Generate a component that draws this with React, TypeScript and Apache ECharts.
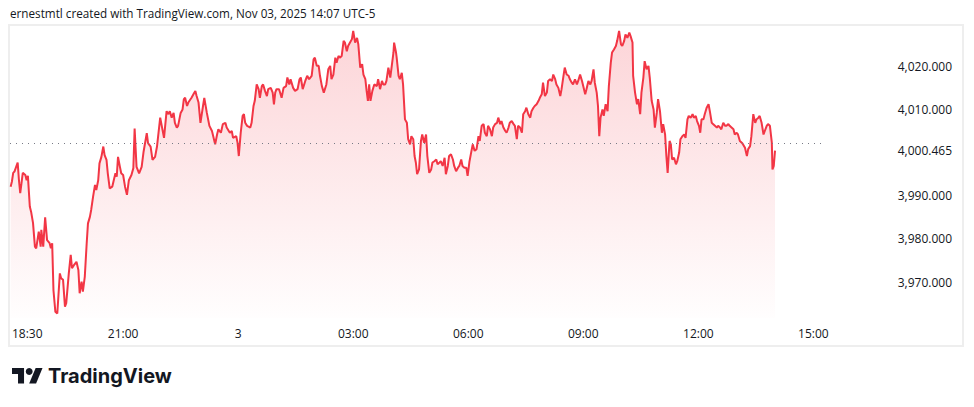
import React, { useEffect, useRef } from "react";
import * as echarts from "echarts";

const HEADER_TEXT = "ernestmtl created with TradingView.com, Nov 03, 2025 14:07 UTC-5";
const BRAND_TEXT = "TradingView";

// [minutes since 18:00 on Nov 2, price]
const evening1800: [number, number][] = [
  [4,3992.1],[6,3993.3],[8,3995.3],[10,3995.6],[15,3997.7],[17,3993.6],[19,3990.6],[21,3992.9],[23,3995.3],[27,3994.8],
  [29,3993.6],[31,3994.6],[34,3987.5],[36,3986.3],[39,3983.7],[42,3978.2],[44,3977.8],[48,3981.7],[51,3978.2],[52,3982.1],
  [55,3978.2],[58,3985.0],[61,3979.7],[65,3979.0],[67,3977.8],[69,3979.0],[71,3968.1],[74,3963.1],[77,3962.7],[81,3972.0],
  [83,3970.9],[86,3970.5],[89,3964.3],[91,3965.1],[95,3972.0],[98,3976.3],[100,3973.2],[103,3973.9],[107,3974.7],[110,3972.8],
  [112,3967.4],[115,3970.1],[117,3967.8],[120,3971.2],[123,3979.0],[125,3983.6],[128,3985.1],[130,3986.7],[133,3989.8],[136,3992.5],
  [138,3991.3],[141,3993.6],[143,3997.5],[146,3999.0],[149,4001.4],[151,3999.4],[154,3998.3],[156,3995.2],[159,3991.7],[163,3992.1],
  [166,3994.0],[168,3995.2],[170,3994.4],[172,3999.0],[175,3996.7],[177,3995.2],
];
const evening2100: [number, number][] = [
  [180,3994.8],[183,3992.1],[186,3990.2],[189,3993.6],[193,3994.8],[196,3996.4],[198,4005.6],[201,3996.7],[205,3995.2],[209,3996.7],
  [212,4000.2],[217,4004.5],[219,4002.2],[223,4001.4],[226,3998.3],[230,3999.0],[233,4001.4],[238,4008.1],[244,4003.4],[248,4009.6],
  [251,4008.9],[253,4009.6],[256,4008.1],[259,4009.2],[261,4006.9],[264,4005.8],[266,4006.2],[270,4009.2],[273,4010.0],[275,4012.4],
  [277,4012.7],[280,4010.8],[282,4011.6],[287,4012.7],[290,4013.5],[293,4014.3],[295,4013.1],[298,4011.6],[301,4006.9],[305,4010.8],
  [307,4012.7],[311,4009.2],[315,4006.2],[319,4005.0],[321,4003.8],[324,4001.9],[327,4004.2],[329,4005.4],[333,4004.6],[336,4006.6],
  [340,4006.9],[342,4005.8],[347,4004.6],[350,4005.0],[352,4003.4],[357,4003.8],[359,4002.3],
];
const night0000: [number, number][] = [
  [361,3999.2],[364,4004.6],[367,4008.5],[369,4008.9],[371,4006.9],[374,4006.2],[379,4005.8],[381,4006.9],[384,4010.8],[386,4012.0],
  [389,4015.8],[392,4014.7],[394,4012.7],[397,4015.4],[399,4015.8],[402,4014.3],[405,4013.1],[407,4014.7],[411,4015.0],[414,4013.9],
  [416,4011.2],[418,4013.9],[420,4014.7],[424,4014.7],[428,4012.7],[431,4015.0],[435,4015.4],[437,4017.4],[440,4015.8],[442,4017.0],
  [446,4015.0],[449,4014.3],[453,4014.7],[456,4017.0],[458,4017.4],[461,4014.7],[465,4016.6],[468,4017.8],[471,4017.0],[475,4017.8],
  [478,4021.6],[480,4022.0],[483,4020.1],[486,4020.1],[488,4017.8],[491,4015.4],[494,4013.9],[498,4015.8],[501,4019.3],[504,4020.1],
  [506,4017.0],[509,4018.1],[512,4022.0],[514,4020.8],[517,4022.4],[519,4022.0],[522,4022.4],[525,4025.9],[527,4025.5],[530,4023.5],
  [532,4024.7],[535,4025.5],[538,4026.3],
];
const night0300: [number, number][] = [
  [540,4028.2],[543,4025.5],[546,4026.6],[548,4025.1],[551,4019.7],[554,4020.5],[556,4018.1],[559,4017.0],[561,4014.3],[563,4012.0],
  [565,4015.8],[567,4012.0],[570,4014.3],[573,4015.8],[577,4015.4],[579,4017.0],[582,4014.7],[585,4016.6],[587,4015.8],[590,4015.8],
  [592,4016.6],[595,4019.7],[598,4017.4],[600,4019.7],[603,4023.2],[604,4025.5],[607,4023.2],[608,4022.0],[611,4017.8],[613,4017.0],
  [616,4018.5],[618,4015.8],[621,4007.7],[624,4006.9],[626,4003.1],[629,4001.9],[631,4003.8],[634,4003.1],[636,3999.2],[638,3997.7],
  [640,3995.0],[643,3996.1],[646,4002.7],[648,4004.2],[651,4002.3],[654,4004.2],[656,3999.2],[659,3995.3],[662,3996.1],[664,3997.7],
  [667,3998.0],[670,3998.4],[672,3997.3],[675,3997.7],[677,3998.0],[680,3996.9],[683,3998.8],[685,3995.0],[688,3996.9],[690,3999.2],
  [693,3999.6],[696,3998.4],[698,3996.9],[701,3995.7],[704,3996.5],[706,3996.9],[709,3998.4],[711,3996.9],[714,3996.5],[717,3996.5],
  [719,3994.6],
];
const morning0600: [number, number][] = [
  [722,3998.0],[724,3999.6],[727,4001.9],[730,4000.4],[733,4000.8],[736,4003.8],[738,4002.7],[741,4006.2],[744,4006.6],[746,4004.6],
  [749,4003.8],[751,4006.2],[754,4005.4],[757,4003.8],[759,4005.8],[762,4006.6],[765,4006.9],[767,4008.1],[770,4006.6],[772,4007.3],
  [775,4005.8],[778,4005.0],[780,4004.6],[783,4005.8],[785,4006.9],[788,4007.3],[791,4006.6],[793,4006.2],[796,4003.1],[798,4006.2],
  [801,4005.8],[804,4004.6],[806,4008.9],[809,4009.6],[811,4010.4],[814,4008.9],[817,4008.1],[819,4009.6],[822,4010.4],[824,4010.8],
  [827,4011.2],[830,4012.0],[832,4012.7],[835,4013.5],[837,4016.2],[840,4013.1],[843,4013.9],[845,4016.6],[848,4017.0],[851,4016.6],
  [853,4018.1],[856,4017.0],[858,4015.8],[861,4015.0],[864,4013.1],[866,4014.7],[869,4017.8],[871,4019.7],[874,4018.1],[877,4017.8],
  [879,4017.0],[882,4016.2],[884,4015.8],[887,4017.0],[890,4015.8],[892,4016.6],[895,4018.1],[898,4016.6],
];
const morning0900: [number, number][] = [
  [900,4015.4],[903,4013.5],[905,4014.7],[908,4016.6],[911,4015.8],[913,4016.6],[916,4019.3],[918,4016.2],[921,4013.9],[923,4010.8],
  [925,4003.8],[927,4008.1],[930,4010.0],[932,4008.5],[935,4011.2],[938,4009.6],[940,4015.4],[943,4020.8],[945,4023.2],[948,4023.9],
  [951,4024.7],[953,4025.9],[956,4028.2],[959,4025.1],[961,4024.7],[964,4025.9],[966,4027.4],[969,4026.6],[972,4027.8],[974,4027.0],
  [977,4025.5],[978,4017.8],[981,4013.9],[984,4011.2],[986,4012.4],[989,4008.9],[991,4013.9],[994,4017.4],[996,4021.2],[999,4019.3],
  [1002,4020.1],[1004,4017.4],[1007,4012.0],[1010,4010.0],[1012,4005.8],[1015,4009.2],[1017,4012.4],[1020,4009.6],[1023,4004.6],[1025,4006.6],
  [1028,4004.2],[1030,3999.2],[1032,3995.3],[1035,4002.7],[1037,4001.9],[1039,3998.4],[1042,3998.8],[1045,3997.3],[1047,3998.0],[1050,4000.0],
  [1052,4003.1],[1055,4003.8],[1058,4004.2],[1060,4003.4],[1063,4007.7],[1065,4008.5],[1068,4008.1],[1071,4008.9],[1073,4008.1],[1076,4008.5],
  [1078,4007.3],
];
const afternoon1200: [number, number][] = [
  [1081,4006.2],[1083,4004.6],[1085,4007.7],[1088,4007.7],[1090,4008.9],[1093,4010.4],[1096,4011.2],[1098,4009.6],[1101,4006.9],[1103,4006.6],
  [1106,4006.2],[1109,4005.8],[1111,4006.2],[1114,4005.8],[1116,4005.4],[1119,4006.9],[1122,4006.2],[1124,4006.2],[1127,4006.6],[1129,4006.2],
  [1132,4005.8],[1135,4005.4],[1137,4004.2],[1140,4004.6],[1142,4004.2],[1145,4002.7],[1148,4002.3],[1150,4001.9],[1153,4001.1],[1156,3999.2],
  [1158,4000.8],[1161,4001.5],[1163,4003.8],[1166,4008.9],[1169,4006.9],[1171,4007.7],[1174,4008.1],[1176,4008.5],[1179,4006.9],[1182,4004.2],
  [1184,4005.0],[1187,4006.2],[1189,4006.6],[1192,4006.2],[1195,4002.3],[1196,3996.1],[1198,3996.9],[1200,4000.465],
];

const timeTickMinutes = [30, 180, 360, 540, 720, 900, 1080, 1260];
const timeTickLabels = ["18:30", "21:00", "3", "03:00", "06:00", "09:00", "12:00", "15:00"];
const priceTicks = [3970, 3980, 3990, 4010, 4020];
const previousClose = 4002.2;

const LINE_COLOR = "#f23645";
const TEXT_COLOR = "#131722";
const FONT = "'Open Sans', 'Noto Sans', sans-serif";

export default function App() {
  const ref = useRef<HTMLDivElement>(null);

  useEffect(() => {
    if (!ref.current) return;
    const chart = echarts.init(ref.current, undefined, { renderer: "svg" });
    const seriesData = [
      ...evening1800, ...evening2100, ...night0000, ...night0300,
      ...morning0600, ...morning0900, ...afternoon1200,
    ];
    const lastPrice = seriesData[seriesData.length - 1][1];
    const fmtPrice = (v: number) =>
      v.toLocaleString("en-US", { minimumFractionDigits: 3, maximumFractionDigits: 3 });

    chart.setOption({
      animation: false,
      backgroundColor: "#ffffff",
      textStyle: { fontFamily: FONT },
      grid: { left: 10, right: 152, top: 27, bottom: 89, containLabel: false },
      xAxis: {
        type: "value",
        min: 3,
        max: 1273.5,
        axisLine: { show: false },
        axisTick: { show: false },
        splitLine: { show: false },
        axisLabel: {
          customValues: timeTickMinutes,
          color: TEXT_COLOR,
          fontSize: 12,
          fontFamily: FONT,
          margin: 9,
          formatter: (v: number) => {
            const i = timeTickMinutes.indexOf(Math.round(v));
            return i >= 0 ? timeTickLabels[i] : "";
          },
        },
      },
      yAxis: {
        type: "value",
        position: "right",
        min: 3961.66,
        max: 4029.11,
        scale: true,
        axisLine: { show: false },
        axisTick: { show: false },
        splitLine: { show: false },
        axisLabel: {
          customValues: [...priceTicks.slice(0, 3), lastPrice, ...priceTicks.slice(3)],
          color: TEXT_COLOR,
          fontSize: 12,
          fontFamily: FONT,
          align: "right",
          margin: 130,
          formatter: (v: number) => fmtPrice(v),
        },
      },
      series: [
        {
          type: "line",
          data: seriesData,
          showSymbol: false,
          symbol: "none",
          lineStyle: { color: LINE_COLOR, width: 2 },
          areaStyle: {
            color: new echarts.graphic.LinearGradient(0, 0, 0, 1, [
              { offset: 0, color: "rgba(242,54,69,0.3)" },
              { offset: 1, color: "rgba(242,54,69,0.01)" },
            ]),
          },
          markLine: {
            silent: true,
            symbol: "none",
            label: { show: false },
            lineStyle: { color: "#787b86", type: [1, 5], width: 1 },
            data: [{ yAxis: previousClose }],
          },
        },
      ],
      graphic: [
        {
          type: "rect",
          shape: { x: 9, y: 25, width: 954, height: 321 },
          style: { fill: "none", stroke: "#eeeeee", lineWidth: 2 },
          silent: true,
        },
        {
          type: "text",
          x: 10,
          y: 13,
          style: {
            text: HEADER_TEXT,
            fill: TEXT_COLOR,
            font: `11.7px ${FONT}`,
            verticalAlign: "middle",
          },
        },
        {
          type: "group",
          x: 12,
          y: 364.6,
          scaleX: 0.86,
          scaleY: 0.86,
          children: [
            {
              type: "polygon",
              shape: { points: [[0, 4], [14, 4], [14, 22], [7, 22], [7, 11], [0, 11]] },
              style: { fill: "#131722" },
            },
            {
              type: "polygon",
              shape: { points: [[20, 22], [27.5, 4], [35.5, 4], [28, 22]] },
              style: { fill: "#131722" },
            },
            { type: "circle", shape: { cx: 20, cy: 8, r: 4 }, style: { fill: "#131722" } },
          ],
        },
        {
          type: "text",
          x: 48,
          y: 376,
          style: {
            text: BRAND_TEXT,
            fill: "#131722",
            font: `700 20px Inter, 'Open Sans', sans-serif`,
            verticalAlign: "middle",
          },
        },
      ],
    });

    return () => chart.dispose();
  }, []);

  return (
    <div
      ref={ref}
      style={{ position: "absolute", left: 0, top: 0, width: 974, height: 407, background: "#fff" }}
    />
  );
}
